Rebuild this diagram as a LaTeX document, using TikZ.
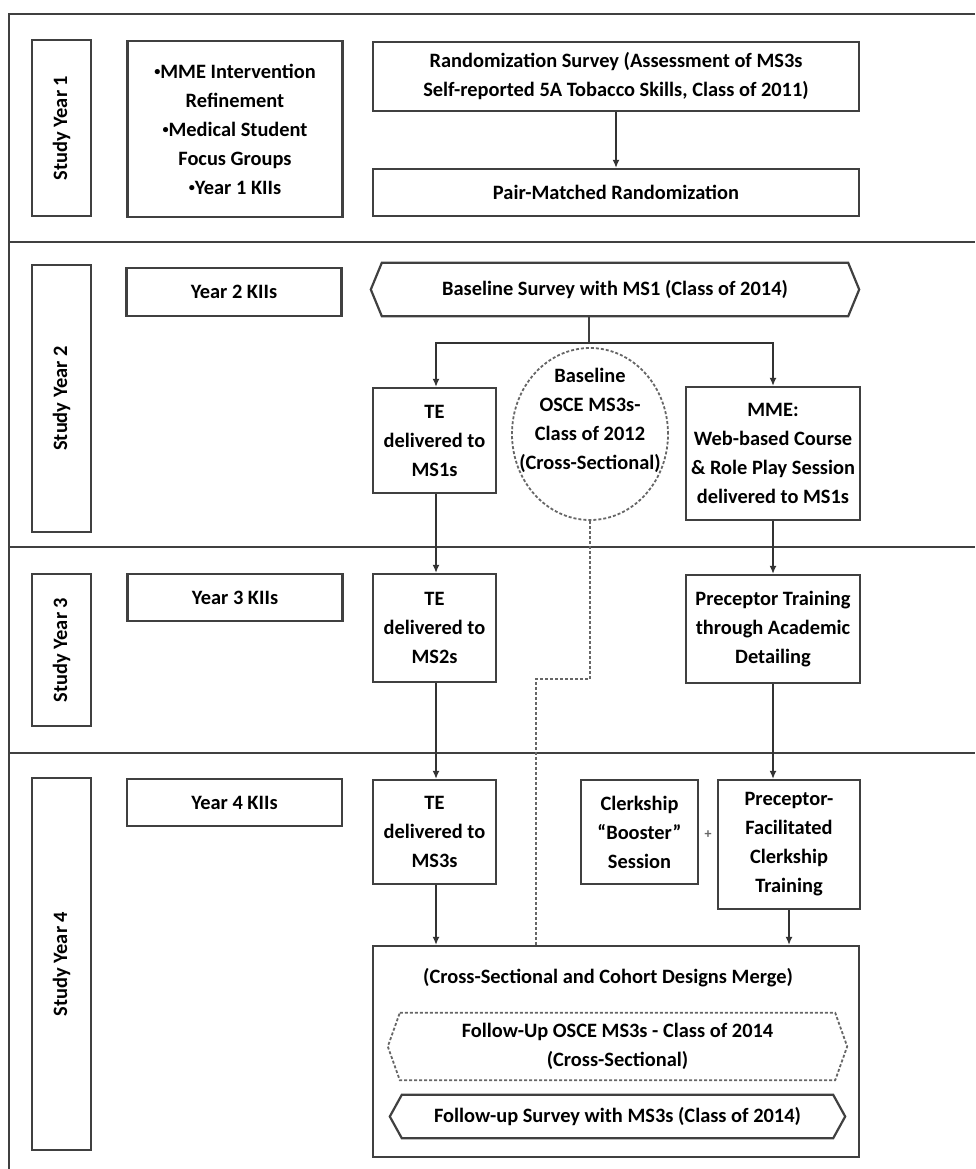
\documentclass[tikz,border=0pt]{standalone}
\usepackage{fontspec}
\setmainfont{Carlito}
\usetikzlibrary{arrows.meta,shapes.geometric}
\newcommand{\smbul}{\raisebox{0.15em}{\scalebox{0.6}{•}}}

\begin{document}
\begin{tikzpicture}[x=1pt,y=-1pt,
    every node/.style={font=\fontsize{20.4}{29}\selectfont\bfseries,align=center,inner sep=0pt},
    frame/.style={line width=2.4pt,draw=black!75},
    ln/.style={line width=2.2pt,draw=black!75},
    box/.style={ln,rectangle},
    yearbox/.style={box,rotate=90,minimum height=59},
    kiibox/.style={box,minimum width=215},
    arr/.style={line width=1.8pt,draw=black!80,-{Latex[length=8pt,width=7pt]}},
    dots/.style={line width=1.8pt,draw=black!60,dash pattern=on 3pt off 2pt}]
        \useasboundingbox (0,0) rectangle (975,1169);%
        \draw[frame] (975,14) -- (9,14) -- (9,1169);%
        \draw[frame] (9,242) -- (975,242);%
        \draw[frame] (9,547) -- (975,547);%
        \draw[frame] (9,753) -- (975,753);%
        \node[yearbox,minimum width=176] (y1) at (61.5,128) {Study Year 1};%
        \node[yearbox,minimum width=267] (y2) at (61.5,398.5) {Study Year 2};%
        \node[yearbox,minimum width=152] (y3) at (61.5,650) {Study Year 3};%
        \node[yearbox,minimum width=372] (y4) at (61.5,964) {Study Year 4};%
        \node[kiibox,minimum height=176] (k1) at (235,129) {\smbul MME Intervention\\Refinement\\\smbul Medical Student\\Focus Groups\\\smbul Year 1 KIIs};%
        \node[kiibox,minimum height=48] (k2) at (234,292) {Year 2 KIIs};%
        \node[kiibox,minimum height=47] (k3) at (235,597.5) {Year 3 KIIs};%
        \node[kiibox,minimum height=47] (k4) at (234.5,802.5) {Year 4 KIIs};%
        \node[box,minimum width=486,minimum height=69] (rs) at (616,76.5) {Randomization Survey (Assessment of MS3s\\Self-reported 5A Tobacco Skills, Class of 2011)};%
        \node[box,minimum width=486,minimum height=47] (pm) at (616,192.5) {Pair-Matched Randomization};%
        \draw[arr] (rs) -- (pm);%
        \node[minimum width=466,minimum height=53] (bs) at (615,289.5) {Baseline Survey with MS1 (Class of 2014)};%
        \draw[ln] (bs.north west) -- (bs.north east) -- ([xshift=11pt]bs.east) -- (bs.south east) -- (bs.south west) -- ([xshift=-11pt]bs.west) -- cycle;%
        \node[box,minimum width=123,minimum height=105] (te1) at (434.5,440.5) {TE\\delivered to\\MS1s};%
        \node[ellipse,dots,minimum width=156,minimum height=172] (osce) at (590,434) {};%
        \node (osceText) at (590,420) {Baseline\\OSCE MS3s-\\Class of 2012\\(Cross-Sectional)};%
        \node[box,minimum width=174,minimum height=133] (mme) at (773,453.5) {MME:\\Web-based Course\\\& Role Play Session\\delivered to MS1s};%
        \coordinate (split) at (589,343);%
        \draw[ln,line width=1.8pt] (bs.south -| split) -- (split);%
        \draw[arr] (split) -| (te1.north -| 436,0);%
        \draw[arr] (split) -| (mme.north);%
        \node[box,minimum width=123,minimum height=108] (te2) at (434.5,628) {TE\\delivered to\\MS2s};%
        \node[box,minimum width=174,minimum height=108] (pt) at (773,629) {Preceptor Training\\through Academic\\Detailing};%
        \draw[arr] (te1.south -| 436,0) -- (te2.north -| 436,0);%
        \draw[arr] (mme) -- (pt);%
        \node[box,minimum width=123,minimum height=104] (te3) at (434.5,832) {TE\\delivered to\\MS3s};%
        \node[box,minimum width=117,minimum height=104] (cb) at (639.5,832) {Clerkship\\“Booster”\\Session};%
        \node[font=\fontsize{14}{16}\selectfont\bfseries,text=black!60] (plus) at (708,835) {+};%
        \node[box,minimum width=142,minimum height=129] (pf) at (789,844.5) {Preceptor-\\Facilitated\\Clerkship\\Training};%
        \draw[arr] (te2.south -| 436,0) -- (te3.north -| 436,0);%
        \draw[arr] (pt.south) -- (pt.south |- pf.north);%
        \node[box,minimum width=486,minimum height=211] (merge) at (616,1051.5) {};%
        \node (mergeText) at (608,978) {(Cross-Sectional and Cohort Designs Merge)};%
        \draw[arr] (te3.south -| 436,0) -- (merge.north -| 436,0);%
        \draw[arr] (pf.south) -- (pf.south |- merge.north);%
        \coordinate (bend) at (536,679);%
        \draw[dots] (osce.south) |- (bend) -- (bend |- merge.north);%
        \node[minimum width=435,minimum height=67] (fo) at (617.5,1046.5) {Follow-Up OSCE MS3s - Class of 2014\\(Cross-Sectional)};%
        \draw[dots] (fo.north west) -- (fo.north east) -- ([xshift=12pt]fo.east) -- (fo.south east) -- (fo.south west) -- ([xshift=-12pt]fo.west) -- cycle;%
        \node[minimum width=431,minimum height=43] (fs) at (617.5,1116.5) {Follow-up Survey with MS3s (Class of 2014)};%
        \draw[ln] (fs.north west) -- (fs.north east) -- ([xshift=12pt]fs.east) -- (fs.south east) -- (fs.south west) -- ([xshift=-12pt]fs.west) -- cycle;%
\end{tikzpicture}
\end{document}
